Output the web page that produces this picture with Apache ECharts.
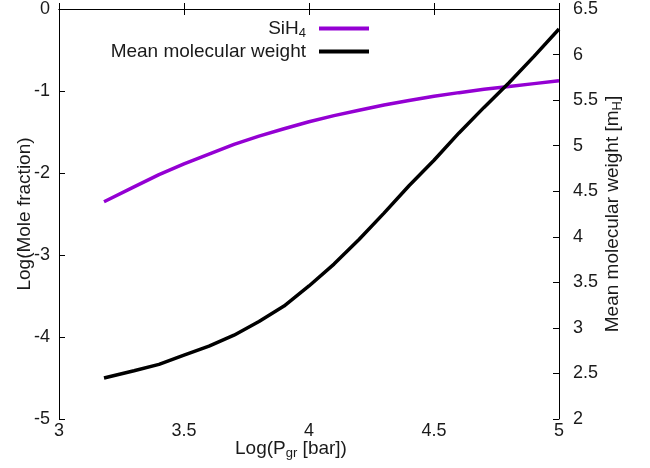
<!DOCTYPE html>
<html>
<head>
<meta charset="utf-8">
<script src="https://cdn.jsdelivr.net/npm/echarts@6/dist/echarts.min.js"></script>
<style>
  html, body { margin: 0; padding: 0; background: #fff; }
  #chart { width: 650px; height: 468px; }
</style>
</head>
<body>
<div id="chart"></div>
<script>
// log10 of the gas pressure (bar)
const logP = [3.18, 3.3, 3.4, 3.5, 3.6, 3.7, 3.8, 3.9, 4.0, 4.1, 4.2, 4.3, 4.4, 4.5, 4.6, 4.7, 4.8, 4.9, 5.0];
// log10 of the SiH4 mole fraction (left axis)
const sih4 = [-2.35, -2.17, -2.02, -1.89, -1.77, -1.65, -1.55, -1.46, -1.375, -1.30, -1.235, -1.17, -1.115, -1.063, -1.02, -0.98, -0.945, -0.91, -0.875];
// mean molecular weight in units of m_H (right axis)
const mmw = [2.45, 2.53, 2.60, 2.70, 2.80, 2.92, 3.07, 3.24, 3.46, 3.70, 3.97, 4.26, 4.56, 4.84, 5.14, 5.42, 5.69, 5.98, 6.28];

const FONT = 'Liberation Sans, Arial, sans-serif';
const TXT = '#1a1a1a';
const sub = { fontSize: 13, fontFamily: FONT, color: TXT, verticalAlign: 'bottom', lineHeight: 14 };
const main = { fontSize: 19, fontFamily: FONT, color: TXT, lineHeight: 22 };

const pairs = (xs, ys) => xs.map((x, i) => [x, ys[i]]);

const legendLabels = {
  'SiH4': '{m|SiH}{s|4}',
  'Mean molecular weight': '{m|Mean molecular weight}'
};
const legendBase = {
  orient: 'vertical',
  align: 'right',
  right: 276,
  icon: 'rect',
  itemWidth: 50,
  itemHeight: 4,
  selectedMode: false,
  formatter: n => legendLabels[n],
  textStyle: { padding: [0, 8, 0, 0], rich: { m: main, s: sub } }
};

const axisLine = { show: true, lineStyle: { color: '#000', width: 1 } };
const tick = { show: true, inside: true, length: 6, lineStyle: { color: '#000' } };
const tickLabel = { fontSize: 18, fontFamily: FONT, color: TXT };

const chart = echarts.init(document.getElementById('chart'), null, { renderer: 'canvas' });
chart.setOption({
  animation: false,
  backgroundColor: '#fff',
  grid: { left: 59, right: 91, top: 9, bottom: 49, containLabel: false, outerBoundsMode: 'none' },
  legend: [
    Object.assign({}, legendBase, { data: ['SiH4'], top: 14 }),
    Object.assign({}, legendBase, { data: ['Mean molecular weight'], top: 37 })
  ],
  xAxis: [
    {
      type: 'value', min: 3, max: 5, interval: 0.5, position: 'bottom',
      axisLine, axisTick: tick, splitLine: { show: false },
      axisLabel: Object.assign({ margin: 3 }, tickLabel),
      name: '{m|Log(P}{s|gr}{m| [bar])}',
      nameLocation: 'middle', nameGap: 19, nameMoveOverlap: false,
      nameTextStyle: { padding: [0, 36, 0, 0], rich: { m: main, s: sub } }
    },
    {
      type: 'value', min: 3, max: 5, interval: 0.5, position: 'top',
      axisLine, axisTick: tick, axisLabel: { show: false }, splitLine: { show: false }
    }
  ],
  yAxis: [
    {
      type: 'value', min: -5, max: 0, interval: 1, position: 'left',
      axisLine, axisTick: tick, splitLine: { show: false },
      axisLabel: Object.assign({ margin: 9 }, tickLabel),
      name: 'Log(Mole fraction)', nameLocation: 'middle', nameGap: 23, nameRotate: 90,
      nameMoveOverlap: false,
      nameTextStyle: main
    },
    {
      type: 'value', min: 2, max: 6.5, interval: 0.5, position: 'right',
      axisLine, axisTick: tick, splitLine: { show: false },
      axisLabel: Object.assign({ margin: 14 }, tickLabel),
      name: '{m|Mean molecular weight [m}{s|H}{m|]}', nameLocation: 'middle', nameGap: 43, nameRotate: 90,
      nameMoveOverlap: false,
      nameTextStyle: { rich: { m: main, s: sub } }
    }
  ],
  series: [
    {
      name: 'SiH4', type: 'line', xAxisIndex: 0, yAxisIndex: 0,
      data: pairs(logP, sih4), showSymbol: false, symbol: 'none',
      lineStyle: { color: '#9400d3', width: 3.5 }, itemStyle: { color: '#9400d3' }
    },
    {
      name: 'Mean molecular weight', type: 'line', xAxisIndex: 0, yAxisIndex: 1,
      data: pairs(logP, mmw), showSymbol: false, symbol: 'none',
      lineStyle: { color: '#000', width: 3.5 }, itemStyle: { color: '#000' }
    }
  ]
});
</script>
</body>
</html>
